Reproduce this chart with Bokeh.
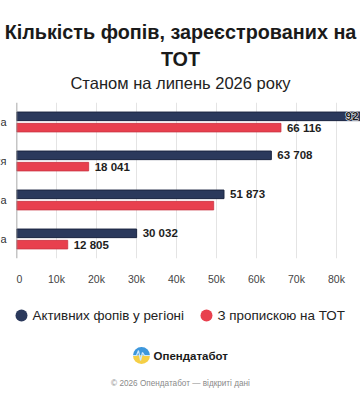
from math import pi

from bokeh.core.properties import value
from bokeh.embed import file_html
from bokeh.layouts import column, row
from bokeh.models import ColumnDataSource, FactorRange, Range1d, Span
from bokeh.plotting import figure
from bokeh.resources import INLINE
from bokeh.transform import dodge

# --- data -------------------------------------------------------------
regions = ["Донеччина", "Запоріжжя", "Луганщина", "Херсонщина"]
active = [92157, 63708, 51873, 30032]        # активних фопів у регіоні
registered = [66116, 18041, 49300, 12805]    # з пропискою на ТОТ
show_registered_label = [True, True, False, True]

series_names = ["Активних фопів у регіоні", "З пропискою на ТОТ"]
tick_values = [0, 10000, 20000, 30000, 40000, 50000, 60000, 70000, 80000]
tick_labels = ["0", "10k", "20k", "30k", "40k", "50k", "60k", "70k", "80k"]

title_lines = ["Кількість фопів, зареєстрованих на", "ТОТ"]
subtitle = "Станом на липень 2026 року"
brand = "Опендатабот"
footer_note = "© 2026 Опендатабот — відкриті дані"

# --- style --------------------------------------------------------------
NAVY = "#2b395c"
NAVY_EDGE = "#1b2540"
RED = "#e8404e"
RED_EDGE = "#c93442"
FONT = "Liberation Sans"
W = 360
LEFT = 16
X_END = 86000
TOP_B, BOT_B = 2, 37


def fmt(v):
    return f"{v:,}".replace(",", " ")


def blank(width, height, x_range, y_range, **kw):
    f = figure(width=width, height=height, x_range=x_range, y_range=y_range,
               output_backend="svg", toolbar_location=None,
               x_axis_location=None, y_axis_location=None,
               outline_line_color=None, **kw)
    f.grid.visible = False
    return f


# --- header -------------------------------------------------------------
head = blank(W, 100, Range1d(0, W), Range1d(0, 100), min_border=0)
head.text(x=[180, 180], y=[69, 42], text=title_lines, text_align="center",
          text_baseline="middle", text_font=value(FONT), text_font_style="bold",
          text_font_size="19.8px", text_color="#1a1a1a")
head.text(x=[180], y=[18], text=[subtitle], text_align="center", text_baseline="middle",
          text_font=value(FONT), text_font_size="16.5px", text_color="#222222")

# --- main chart ---------------------------------------------------------
# labels of bars running past the visible range are pinned inside it
view_limit = X_END - 3750
inside = [v < view_limit for v in active]

src = ColumnDataSource(dict(
    region=regions,
    active=active,
    registered=registered,
    registered_lbl=[fmt(v) if s else "" for v, s in zip(registered, show_registered_label)],
))
active_lbl_src = ColumnDataSource(dict(
    x=[v if ok else view_limit for v, ok in zip(active, inside)],
    region=regions,
    t=[fmt(v) for v in active],
    dx=[6 if ok else 0 for ok in inside],
))
pinned_src = ColumnDataSource(dict(
    x=[view_limit for ok in inside if not ok],
    region=[r for r, ok in zip(regions, inside) if not ok],
    t=[fmt(v) for v, ok in zip(active, inside) if not ok],
))

y_range = FactorRange(factors=list(reversed(regions)), range_padding=0)

p = figure(width=W - LEFT, height=195, y_range=y_range, x_range=Range1d(0, X_END),
           output_backend="svg", toolbar_location=None, y_axis_location=None,
           min_border_left=0, min_border_right=0, min_border_top=TOP_B, min_border_bottom=BOT_B,
           outline_line_color=None)

y_act = dodge("region", 0.145, range=y_range)
y_reg = dodge("region", -0.145, range=y_range)

p.hbar(y=y_act, right="active", left=0, height=0.22, source=src,
       fill_color=NAVY, line_color=NAVY_EDGE, line_width=1)
p.hbar(y=y_reg, right="registered", left=0, height=0.22, source=src,
       fill_color=RED, line_color=RED_EDGE, line_width=0.8)

label_style = dict(text_font=value(FONT), text_font_style="bold", text_font_size="11.5px",
                   text_color="#1e1e1e", text_baseline="middle")
# white halo under a label that sits on its own bar
p.text(x="x", y=y_act, text="t", source=pinned_src,
       **dict(label_style, text_color="white", text_outline_color="white"))
p.text(x="x", y=y_act, text="t", x_offset="dx", source=active_lbl_src, **label_style)
p.text(x="registered", y=y_reg, text="registered_lbl", x_offset=6, source=src, **label_style)

p.add_layout(Span(location=0, dimension="height", line_color="#8c8c8c", line_width=1.5))

p.ygrid.visible = False
p.xaxis.ticker = tick_values
p.xaxis.major_label_overrides = {v: t for v, t in zip(tick_values, tick_labels)}
p.xaxis.axis_line_color = None
p.xaxis.major_tick_line_color = None
p.xaxis.minor_tick_line_color = None
p.xaxis.major_label_standoff = 8
p.xaxis.major_label_text_font = FONT
p.xaxis.major_label_text_font_size = "10.5px"
p.xaxis.major_label_text_color = "#444444"
p.xgrid.grid_line_color = "#e4e4e4"

# narrow strip to the left carrying the region names (only their endings fit)
names = blank(LEFT, 195, Range1d(0, LEFT), y_range,
              min_border_left=0, min_border_right=0, min_border_top=TOP_B, min_border_bottom=BOT_B)
names.text(x=LEFT - 10, y="region", text="region", source=src,
           text_align="right", text_baseline="middle", text_font=value(FONT),
           text_font_size="11px", text_color="#333333")

# --- legend, brand and note --------------------------------------------
foot = blank(W, 105, Range1d(0, W), Range1d(0, 105), min_border=0)
foot.scatter(x=[21, 206], y=[85, 85], size=12, marker="circle",
             fill_color=[NAVY, RED], line_color=None)
foot.text(x=[32, 217], y=[85, 85], text=series_names, text_baseline="middle",
          text_font=value(FONT), text_font_size="13.4px", text_color="#222222")

# brand mark: a round badge, blue over yellow, with a pulse line
foot.wedge(x=[141], y=[45], radius=8.5, start_angle=0, end_angle=pi,
           fill_color="#3d97dc", line_color=None)
foot.wedge(x=[141], y=[45], radius=8.5, start_angle=pi, end_angle=2 * pi,
           fill_color="#f5cf46", line_color=None)
foot.line(x=[132.5, 136, 138, 140, 142, 144, 149.5], y=[45, 45, 50, 40, 48, 45, 45],
          line_color="#cfeaff", line_width=1.2)
foot.text(x=[153], y=[45], text=[brand], text_baseline="middle", text_font=value(FONT),
          text_font_style="bold", text_font_size="11.5px", text_color="#1a1a1a")
foot.text(x=[180], y=[17], text=[footer_note], text_align="center", text_baseline="middle",
          text_font=value(FONT), text_font_size="8.2px", text_color="#8a8a8a")

layout = column(head, row(names, p, spacing=0), foot, spacing=0)
open("out.html", "w").write(file_html(layout, INLINE))
